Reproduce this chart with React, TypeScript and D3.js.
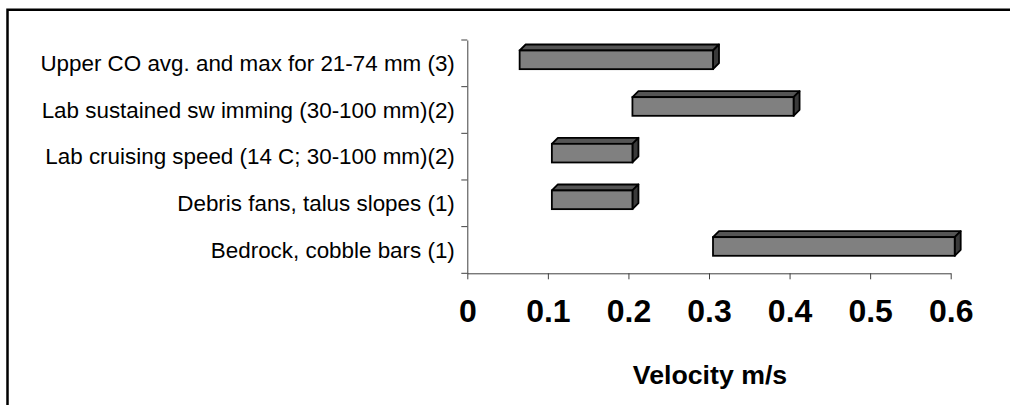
import React, { useEffect, useRef } from 'react';
import * as d3 from 'd3';

// Habitat / swimming velocity ranges (m/s)
const categories = [
  'Upper CO avg. and max for 21-74 mm (3)',
  'Lab sustained sw imming (30-100 mm)(2)',
  'Lab cruising speed (14 C; 30-100 mm)(2)',
  'Debris fans, talus slopes (1)',
  'Bedrock, cobble bars (1)',
];
const lowValues = [0.06, 0.2, 0.1, 0.1, 0.3];
const highValues = [0.3, 0.4, 0.2, 0.2, 0.6];
const xTicks = [0, 0.1, 0.2, 0.3, 0.4, 0.5, 0.6];
const xTitle = 'Velocity m/s';

const FONT = '"Liberation Sans", Arial, Helvetica, sans-serif';

export default function App() {
  const svgRef = useRef<SVGSVGElement | null>(null);

  useEffect(() => {
    const svg = d3.select(svgRef.current);
    svg.selectAll('*').remove();

    const width = 1010;
    const height = 405;
    const margin = { top: 40, left: 467.3 };
    const plotRight = 950.7;
    const plotBottom = 273.3;

    // outer frame: only top and left edges are inside the picture
    svg.append('path')
      .attr('d', `M7.5,${height + 10} L7.5,9.7 L${width + 10},9.7`)
      .attr('fill', 'none')
      .attr('stroke', '#000')
      .attr('stroke-width', 2.5);

    const x = d3.scaleLinear().domain([0, 0.6]).range([margin.left, plotRight]);
    const y = d3.scaleBand().domain(categories).range([margin.top, plotBottom]);

    // --- Axes ---
    const xAxis = svg.append('g')
      .attr('transform', `translate(0, ${plotBottom})`)
      .call(d3.axisBottom(x).tickValues(xTicks).tickSize(6).tickSizeOuter(0).tickFormat(d => String(d)));
    xAxis.select('.domain').attr('stroke', '#404040');
    xAxis.selectAll('.tick line').attr('stroke', '#404040');
    xAxis.selectAll('.tick text')
      .attr('fill', '#000')
      .attr('y', 0)
      .attr('dy', 0)
      .attr('transform', 'translate(0, 48.7)')
      .style('font-family', FONT)
      .style('font-weight', 'bold')
      .style('font-size', '32px');

    const yAxis = svg.append('g')
      .attr('transform', `translate(${margin.left}, 0)`)
      .call(d3.axisLeft(y).tickSize(0).tickSizeOuter(0));
    yAxis.select('.domain').attr('stroke', '#404040');
    yAxis.selectAll('.tick text')
      .attr('fill', '#000')
      .attr('x', -12.5)
      .attr('dy', '0.35em')
      .style('font-family', FONT)
      .style('font-size', '22.4px');

    // band boundary ticks (Excel style, between categories)
    const boundaries = categories.map(c => y(c) as number).concat([plotBottom]);
    svg.append('g')
      .selectAll('line')
      .data(boundaries)
      .enter()
      .append('line')
      .attr('x1', margin.left - 6)
      .attr('x2', margin.left)
      .attr('y1', d => d)
      .attr('y2', d => d)
      .attr('stroke', '#404040');

    // axis title
    svg.append('text')
      .attr('x', (margin.left + plotRight) / 2 + 1)
      .attr('y', 384)
      .attr('text-anchor', 'middle')
      .style('font-family', FONT)
      .style('font-weight', 'bold')
      .style('font-size', '26.7px')
      .text(xTitle);

    // --- 3D floating bars ---
    const shift = 4; // front face offset
    const dx = 6;
    const dy = 6;
    const barH = y.bandwidth() * 0.4;

    const bars = svg.append('g')
      .selectAll('g')
      .data(categories)
      .enter()
      .append('g');

    const geom = (i: number) => {
      const c = categories[i];
      const x0 = x(lowValues[i]) + shift;
      const x1 = x(highValues[i]) + shift;
      const yc = (y(c) as number) + y.bandwidth() / 2 - 3.5;
      const y0 = yc - barH / 2;
      const y1 = yc + barH / 2;
      return { x0, x1, y0, y1 };
    };

    // top face
    bars.append('path')
      .attr('d', (d, i) => {
        const g = geom(i);
        return `M${g.x0},${g.y0} L${g.x0 + dx},${g.y0 - dy} L${g.x1 + dx},${g.y0 - dy} L${g.x1},${g.y0} Z`;
      })
      .attr('fill', '#555555')
      .attr('stroke', '#000')
      .attr('stroke-width', 1.8)
      .attr('stroke-linejoin', 'round');

    // right side face
    bars.append('path')
      .attr('d', (d, i) => {
        const g = geom(i);
        return `M${g.x1},${g.y0} L${g.x1 + dx},${g.y0 - dy} L${g.x1 + dx},${g.y1 - dy} L${g.x1},${g.y1} Z`;
      })
      .attr('fill', '#3a3a3a')
      .attr('stroke', '#000')
      .attr('stroke-width', 1.8)
      .attr('stroke-linejoin', 'round');

    // front face
    bars.append('rect')
      .attr('x', (d, i) => geom(i).x0)
      .attr('y', (d, i) => geom(i).y0)
      .attr('width', (d, i) => geom(i).x1 - geom(i).x0)
      .attr('height', barH)
      .attr('fill', '#808080')
      .attr('stroke', '#000')
      .attr('stroke-width', 1.8);
  }, []);

  return (
    <svg
      ref={svgRef}
      width={1010}
      height={405}
      style={{ position: 'absolute', left: 0, top: 0, background: '#fff' }}
    />
  );
}
